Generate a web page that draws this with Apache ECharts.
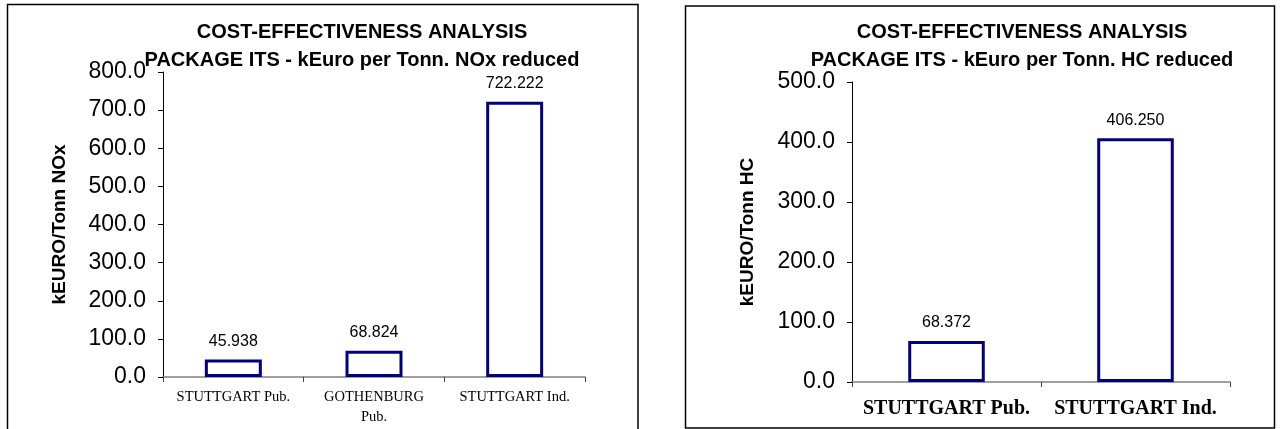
<!DOCTYPE html>
<html>
<head>
<meta charset="utf-8">
<script src="https://cdn.jsdelivr.net/npm/echarts@6/dist/echarts.min.js"></script>
<style>
  html, body { margin: 0; padding: 0; background: #fff; }
  #chart { width: 1281px; height: 429px; }
</style>
</head>
<body>
<div id="chart"></div>
<script>
// NOx panel
const noxCategories = ['STUTTGART Pub.', 'GOTHENBURG\nPub.', 'STUTTGART Ind.'];
const noxValues = [45.938, 68.824, 722.222];
const noxTicks = { min: 0, max: 800, interval: 100 };

// HC panel
const hcCategories = ['STUTTGART Pub.', 'STUTTGART Ind.'];
const hcValues = [68.372, 406.250];
const hcTicks = { min: 0, max: 500, interval: 100 };

const titleLine1 = 'COST-EFFECTIVENESS ANALYSIS';
const noxTitle2 = 'PACKAGE ITS - kEuro per Tonn. NOx reduced';
const hcTitle2 = 'PACKAGE ITS - kEuro per Tonn. HC reduced';
const noxAxisName = 'kEURO/Tonn NOx';
const hcAxisName = 'kEURO/Tonn HC';

const SANS = 'Arial, "Liberation Sans", Helvetica, sans-serif';
const SERIF = '"Times New Roman", "Liberation Serif", serif';
const NAVY = '#000080';

function valueAxis(gridIndex, ticks, name, nameGap) {
  return {
    type: 'value', gridIndex,
    min: ticks.min, max: ticks.max, interval: ticks.interval,
    name, nameLocation: 'middle', nameRotate: 90, nameGap,
    nameTextStyle: { fontFamily: SANS, fontWeight: 'bold', fontSize: 19, color: '#000' },
    axisLine: { show: true, lineStyle: { color: '#000', width: 1 } },
    axisTick: { show: true, length: 5, lineStyle: { color: '#000' } },
    axisLabel: {
      margin: 17, fontFamily: SANS, fontSize: 23, color: '#000',
      formatter: v => v.toFixed(1)
    },
    splitLine: { show: false }
  };
}

function categoryAxis(gridIndex, data, labelStyle) {
  return {
    type: 'category', gridIndex, data,
    axisLine: { show: true, lineStyle: { color: '#808080', width: 1.5 } },
    axisTick: { show: true, length: 5, lineStyle: { color: '#404040' } },
    axisLabel: Object.assign({ interval: 0, color: '#000', fontFamily: SERIF }, labelStyle)
  };
}

function barSeries(axisIndex, data) {
  return {
    type: 'bar', xAxisIndex: axisIndex, yAxisIndex: axisIndex,
    data, barWidth: '40.5%',
    itemStyle: { color: '#fff', borderColor: NAVY, borderWidth: 3 },
    label: {
      show: true, position: 'top', distance: 10,
      fontFamily: SANS, fontSize: 16, color: '#000',
      formatter: p => p.value.toFixed(3)
    },
    silent: true
  };
}

const chart = echarts.init(document.getElementById('chart'), null, { renderer: 'canvas' });
chart.setOption({
  animation: false,
  backgroundColor: '#fff',
  graphic: [
    { type: 'rect', shape: { x: 7.5, y: 4.5, width: 630.5, height: 440 },
      style: { fill: 'none', stroke: '#000', lineWidth: 1.5 }, z: -1 },
    { type: 'rect', shape: { x: 685.5, y: 6, width: 589, height: 422 },
      style: { fill: 'none', stroke: '#000', lineWidth: 1.5 }, z: -1 }
  ],
  title: [
    { text: titleLine1 + '\n' + noxTitle2, left: 357, top: 13, textAlign: 'center',
      textStyle: { fontFamily: SANS, fontWeight: 'bold', fontSize: 20, lineHeight: 28, color: '#000' } },
    { text: titleLine1 + '\n' + hcTitle2, left: 1017, top: 13, textAlign: 'center',
      textStyle: { fontFamily: SANS, fontWeight: 'bold', fontSize: 20, lineHeight: 28, color: '#000' } }
  ],
  grid: [
    { left: 163, top: 72, width: 422, height: 305 },
    { left: 852, top: 82, width: 378, height: 300 }
  ],
  xAxis: [
    categoryAxis(0, noxCategories, { fontSize: 14.5, lineHeight: 20, margin: 10 }),
    categoryAxis(1, hcCategories, { fontSize: 20, fontWeight: 'bold', margin: 17 })
  ],
  yAxis: [
    valueAxis(0, noxTicks, noxAxisName, 94),
    valueAxis(1, hcTicks, hcAxisName, 95)
  ],
  series: [
    barSeries(0, noxValues),
    barSeries(1, hcValues)
  ]
});
</script>
</body>
</html>
